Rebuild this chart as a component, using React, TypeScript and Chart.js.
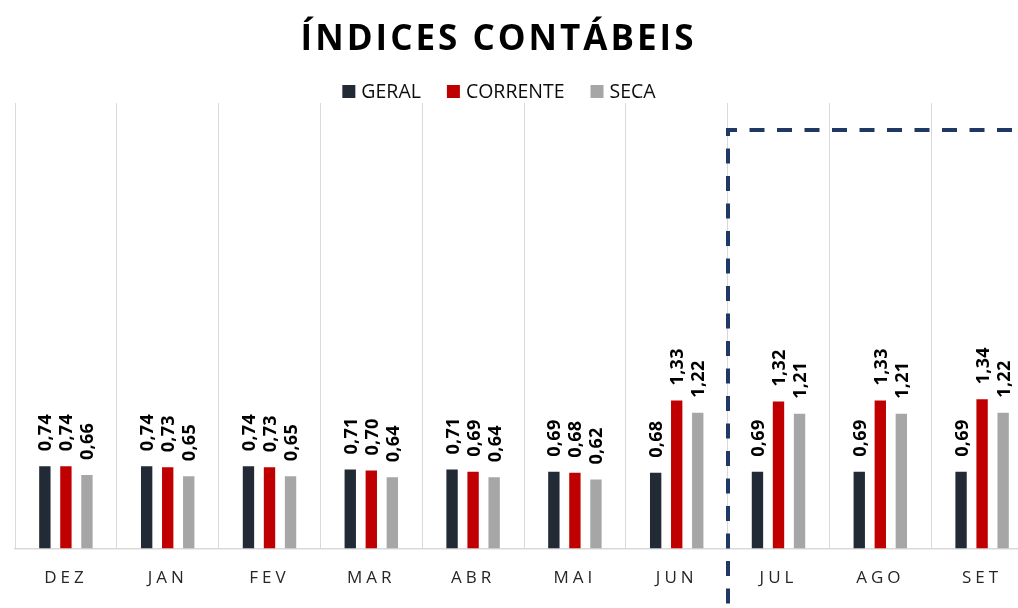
import { useEffect, useRef } from "react";
import { Chart, registerables } from "chart.js";

Chart.register(...registerables);

const categories = ["DEZ", "JAN", "FEV", "MAR", "ABR", "MAI", "JUN", "JUL", "AGO", "SET"];
const geral = [0.74, 0.74, 0.74, 0.71, 0.71, 0.69, 0.68, 0.69, 0.69, 0.69];
const corrente = [0.74, 0.73, 0.73, 0.7, 0.69, 0.68, 1.33, 1.32, 1.33, 1.34];
const seca = [0.66, 0.65, 0.65, 0.64, 0.64, 0.62, 1.22, 1.21, 1.21, 1.22];
const seriesNames = ["GERAL", "CORRENTE", "SECA"];
const seriesColors = ["#222a35", "#c00000", "#a6a6a6"];
const titleText = "ÍNDICES CONTÁBEIS";
const highlightFrom = "JUL";
const highlightTop = 3.76;
const yMin = 0;
const yMax = 4;

const fmt = (v: number) => v.toFixed(2).replace(".", ",");

const customPlugin = {
  id: "customDecor",
  beforeDraw(chart: any) {
    chart.ctx.letterSpacing = "4px";
  },
  afterDatasetsDraw(chart: any) {
    const ctx = chart.ctx;
    ctx.save();
    ctx.letterSpacing = "0.3px";
    ctx.font = 'bold 18px "Open Sans"';
    ctx.fillStyle = "#000000";
    ctx.textAlign = "left";
    ctx.textBaseline = "alphabetic";
    chart.data.datasets.forEach((ds: any, di: number) => {
      const meta = chart.getDatasetMeta(di);
      meta.data.forEach((el: any, i: number) => {
        ctx.save();
        ctx.translate(el.x, el.y - 15);
        ctx.rotate(-Math.PI / 2);
        ctx.fillText(fmt(ds.data[i]), 0, 6.5);
        ctx.restore();
      });
    });
    ctx.restore();
  },
  afterDraw(chart: any) {
    const ctx = chart.ctx;
    ctx.save();
    // Title
    ctx.font = 'bold 35px "Open Sans"';
    ctx.letterSpacing = "3px";
    ctx.fillStyle = "#000000";
    ctx.textAlign = "left";
    ctx.textBaseline = "alphabetic";
    const tw = ctx.measureText(titleText).width;
    ctx.fillText(titleText, 497 - (tw - 3) / 2, 50);

    // Legend
    ctx.letterSpacing = "0px";
    ctx.font = '19.5px "Open Sans"';
    const box = 13;
    const gapBox = 6;
    const gapItem = 26;
    const widths = seriesNames.map((n) => ctx.measureText(n).width);
    const total = widths.reduce((a, w) => a + box + gapBox + w, 0) + gapItem * (seriesNames.length - 1);
    let x = 499 - total / 2;
    seriesNames.forEach((n, i) => {
      ctx.fillStyle = seriesColors[i];
      ctx.fillRect(x, 85, box, box);
      ctx.fillStyle = "#0d0d0d";
      ctx.fillText(n, x + box + gapBox, 98);
      x += box + gapBox + widths[i] + gapItem;
    });

    // Dashed highlight frame
    const xs = chart.scales.x;
    const ys = chart.scales.y;
    const idx = categories.indexOf(highlightFrom);
    const hx = Math.round((xs.getPixelForValue(idx - 1) + xs.getPixelForValue(idx)) / 2);
    const hy = Math.round(ys.getPixelForValue(highlightTop));
    ctx.strokeStyle = "#203864";
    ctx.lineWidth = 4;
    ctx.setLineDash([15, 12.5]);
    ctx.lineDashOffset = 0;
    ctx.beginPath();
    ctx.moveTo(hx, hy + 6);
    ctx.lineTo(hx, hy);
    ctx.lineTo(chart.width + 10, hy);
    ctx.stroke();
    ctx.lineDashOffset = 15;
    ctx.beginPath();
    ctx.moveTo(hx, hy + 6);
    ctx.lineTo(hx, chart.height + 10);
    ctx.stroke();
    ctx.restore();
    ctx.letterSpacing = "0px";
  },
};

export default function App() {
  const ref = useRef<HTMLCanvasElement>(null);
  useEffect(() => {
    if (!ref.current) return;
    const chart = new Chart(ref.current, {
      type: "bar",
      data: {
        labels: categories,
        datasets: [
          { label: seriesNames[0], data: geral, backgroundColor: seriesColors[0] },
          { label: seriesNames[1], data: corrente, backgroundColor: seriesColors[1] },
          { label: seriesNames[2], data: seca, backgroundColor: seriesColors[2] },
        ],
      },
      options: {
        responsive: false,
        animation: false,
        devicePixelRatio: 1,
        layout: { padding: { left: 15, right: 7, top: 103, bottom: 1 } },
        datasets: { bar: { categoryPercentage: 0.62, barPercentage: 0.54 } },
        plugins: {
          legend: { display: false },
          title: { display: false },
          tooltip: { enabled: false },
        },
        scales: {
          x: {
            grid: { offset: true, color: "#d9d9d9", lineWidth: 1, drawTicks: false },
            border: { display: true, color: "#d9d9d9", width: 1.5 },
            ticks: {
              color: "#262626",
              font: { family: "Open Sans", size: 17 },
              padding: 19,
              autoSkip: false,
              maxRotation: 0,
            },
          },
          y: { display: false, min: yMin, max: yMax },
        },
      },
      plugins: [customPlugin],
    });
    return () => chart.destroy();
  }, []);
  return (
    <div
      style={{
        position: "fixed",
        left: 0,
        top: 0,
        width: 1018,
        height: 608,
        overflow: "hidden",
        background: "#ffffff",
      }}
    >
      <canvas ref={ref} width={1040} height={608} style={{ display: "block" }} />
    </div>
  );
}
